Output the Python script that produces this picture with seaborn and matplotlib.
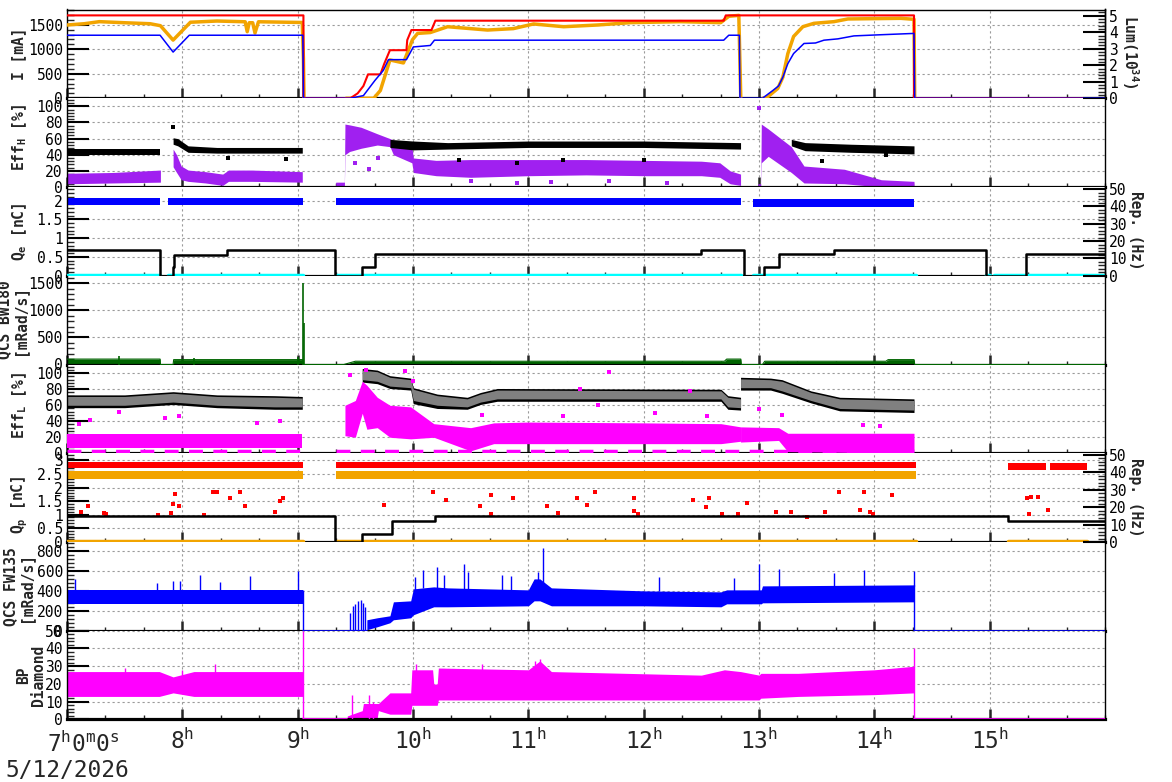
import matplotlib
matplotlib.use("Agg")
import matplotlib.pyplot as plt
import matplotlib.ticker as mticker
import seaborn as sns

# === time axis (hours of 5/12/2026) ===
hours = [7, 8, 9, 10, 11, 12, 13, 14, 15]
hour_labels = ['', '8', '9', '10', '11', '12', '13', '14', '15']

# === panel 1: beam currents [mA] and luminosity [1e34] ===
her_t = [7.0, 9.05, 9.05, 9.457, 9.52, 9.57, 9.61, 9.717, 9.75, 9.80, 9.943, 9.95, 9.986,
         10.16, 10.194, 12.694, 12.712, 14.344, 14.344, 16.0]
her_i = [1690, 1690, 0, 0, 100, 250, 487, 487, 700, 980, 980, 1186, 1391,
         1391, 1582, 1582, 1690, 1690, 0, 0]

ler_t1 = [7.0, 7.15, 7.28, 7.5, 7.72, 7.81, 7.92, 8.07, 8.30, 8.545, 8.5625, 8.58, 8.61,
          8.63, 8.66, 9.04, 9.05, 9.055]
ler_i1 = [1494, 1520, 1562, 1540, 1520, 1480, 1186, 1550, 1575, 1560, 1357, 1540, 1540,
          1330, 1560, 1545, 800, 0]
ler_t2 = [9.42, 9.66, 9.717, 9.80, 9.917, 9.995, 10.04, 10.15, 10.30, 10.646, 10.87, 11.045,
          11.306, 11.60, 11.887, 12.32, 12.668, 12.738, 12.825, 12.835, 12.842]
ler_i2 = [0, 0, 158, 781, 720, 1192, 1323, 1340, 1459, 1391, 1420, 1515,
          1459, 1494, 1542, 1562, 1542, 1671, 1690, 700, 0]
ler_t3 = [13.033, 13.076, 13.163, 13.207, 13.25, 13.30, 13.38, 13.476, 13.65, 13.77, 14.23,
          14.344, 14.35]
ler_i3 = [0, 30, 200, 430, 910, 1260, 1459, 1528, 1562, 1617, 1630, 1610, 0]

lum_t = [7.0, 7.807, 7.92, 8.06, 9.045, 9.05, 9.457, 9.57, 9.67, 9.743, 9.787, 9.943, 10.003,
         10.15, 10.186, 12.694, 12.738, 12.83, 12.835, 13.03, 13.12, 13.17, 13.207, 13.25,
         13.30, 13.39, 13.49, 13.563, 13.684, 13.823, 14.057, 14.344, 14.35, 16.0]
lum_v = [3.82, 3.82, 2.80, 3.82, 3.82, 0, 0, 0.16, 1.08, 1.69, 2.34, 2.34, 3.11,
         3.2, 3.52, 3.52, 3.82, 3.82, 0, 0, 0.47, 0.75, 1.28, 2.10,
         2.71, 3.32, 3.35, 3.52, 3.6, 3.78, 3.85, 3.93, 0, 0]

# === panel 2: Eff_H [%] ===
effh_pur_t1 = [7.0, 7.4, 7.81]
effh_pur_lo1 = [4, 5, 6]
effh_pur_hi1 = [17, 18, 21]
effh_pur_t2 = [7.92, 7.95, 7.99, 8.05, 8.2, 8.35, 8.40, 8.6, 9.04]
effh_pur_lo2 = [25, 18, 9, 7, 5, 2, 7, 7, 6]
effh_pur_hi2 = [47, 40, 26, 21, 19, 16, 21, 21, 19]
effh_pur_t3 = [9.33, 9.405, 9.41, 9.45, 9.55, 9.69, 9.80, 9.83, 9.99, 10.003, 10.2, 10.5,
               11.0, 11.5, 12.0, 12.5, 12.66, 12.75, 12.84]
effh_pur_lo3 = [0, 0, 40, 44, 48, 52, 50, 40, 30, 18, 14, 12, 14, 15, 14, 14, 12, 4, 2]
effh_pur_hi3 = [6, 6, 78, 77, 74, 66, 60, 58, 50, 36, 33, 34, 34, 34, 33, 32, 30, 20, 16]
effh_pur_t4 = [12.99, 13.015, 13.02, 13.08, 13.28, 13.39, 13.74, 14.06, 14.344]
effh_pur_lo4 = [0, 0, 30, 38, 18, 5, 4, 0, 0]
effh_pur_hi4 = [4, 4, 78, 72, 50, 26, 22, 9, 7]

effh_blk_t1 = [7.0, 7.81]
effh_blk_lo1 = [40, 40]
effh_blk_hi1 = [47, 47]
effh_blk_t2 = [7.92, 7.96, 8.05, 8.3, 9.04]
effh_blk_lo2 = [53, 51, 43, 42, 42]
effh_blk_hi2 = [61, 60, 51, 49, 49]
effh_blk_t3 = [9.80, 10.0, 10.3, 11.0, 12.0, 12.84]
effh_blk_lo3 = [49, 46, 47, 49, 49, 47]
effh_blk_hi3 = [59, 57, 55, 57, 57, 55]
effh_blk_t4 = [13.28, 13.4, 13.8, 14.344]
effh_blk_lo4 = [51, 45, 43, 41]
effh_blk_hi4 = [59, 55, 53, 51]

effh_blk_out_t = [7.92, 8.40, 8.9, 10.4, 10.9, 11.3, 12.0, 13.55, 14.1]
effh_blk_out_v = [74, 36, 35, 34, 30, 34, 33, 32, 40]
effh_pur_out_t = [13.0, 9.5, 9.62, 9.7, 10.5, 10.9, 11.2, 11.7, 12.2]
effh_pur_out_v = [98, 30, 22, 36, 8, 5, 6, 8, 5]

# === panel 3: Q_e [nC] and e- rep. rate [Hz] ===
qe_start = [7.0, 7.877, 9.33, 12.946]
qe_end = [7.81, 9.05, 12.842, 14.344]
qe_lo = [1.88, 1.88, 1.87, 1.83]
qe_hi = [2.08, 2.08, 2.06, 2.05]
cy_start = [7.0, 7.88, 9.33, 12.946, 14.97, 15.04]
cy_end = [7.81, 9.05, 12.842, 14.36, 15.0, 16.0]
cy_level = 0.02

rep_e_t = [7.0, 7.81, 7.81, 7.915, 7.915, 7.925, 7.925, 8.39, 8.39, 9.326, 9.326, 9.56, 9.56,
           9.67, 9.67, 12.50, 12.50, 12.868, 12.868, 13.04, 13.04, 13.17, 13.17, 13.65, 13.65,
           14.97, 14.97, 15.316, 15.316, 16.0]
rep_e_v = [14.6, 14.6, 0, 0, 5, 5, 12.1, 12.1, 14.6, 14.6, 0, 0, 4.8,
           4.8, 12.3, 12.3, 14.6, 14.6, 0, 0, 4.8, 4.8, 12.3, 12.3, 14.6,
           14.6, 0, 0, 12.3, 12.3]

# === panel 4: QCS BW180 [mRad/s] ===
bw_t = [7.0, 7.807, 7.81, 7.92, 7.925, 9.045, 9.05, 9.40, 9.50, 12.70, 12.72, 12.842, 12.846,
        13.03, 13.05, 14.10, 14.12, 14.344, 14.35, 16.0]
bw_v = [100, 100, 0, 0, 90, 90, 0, 0, 60, 60, 100, 100, 0, 0, 60, 60, 90, 90, 0, 0]
bw_spk_t = [9.048, 9.057, 7.45, 8.1, 9.0]
bw_spk_v = [1500, 760, 150, 120, 140]

# === panel 5: Eff_L [%] ===
effl_t1 = [7.0, 7.5, 7.92, 8.3, 8.8, 9.04]
effl_gry_lo1 = [60, 60, 64, 60, 58, 58]
effl_gry_hi1 = [71, 71, 75, 71, 70, 69]
effl_blk_lo1 = [57, 57, 61, 57, 55, 55]
effl_blk_hi1 = [73, 73, 77, 73, 72, 71]
effl_t2 = [9.56, 9.69, 9.80, 9.98, 10.003, 10.21, 10.47, 10.585, 10.73, 12.67, 12.73, 12.84]
effl_gry_lo2 = [92, 90, 84, 82, 66, 60, 58, 64, 68, 68, 58, 57]
effl_gry_hi2 = [104, 102, 95, 92, 80, 72, 68, 74, 79, 78, 70, 68]
effl_blk_lo2 = [89, 87, 81, 79, 62, 56, 55, 61, 65, 65, 55, 54]
effl_blk_hi2 = [106, 104, 97, 94, 82, 74, 70, 76, 81, 80, 72, 70]
effl_t3 = [12.84, 13.1, 13.2, 13.45, 13.7, 14.344]
effl_gry_lo3 = [82, 82, 78, 66, 56, 54]
effl_gry_hi3 = [93, 92, 90, 76, 68, 66]
effl_blk_lo3 = [79, 79, 75, 63, 53, 51]
effl_blk_hi3 = [95, 94, 92, 78, 70, 68]

effl_mag_t1 = [7.0, 9.04]
effl_mag_lo1 = [7, 7]
effl_mag_hi1 = [24, 24]
effl_mag_t2 = [9.41, 9.50, 9.56, 9.60, 9.69, 9.80, 9.98, 10.18, 10.5, 10.70, 11.0, 12.0, 12.67, 12.84]
effl_mag_lo2 = [22, 20, 50, 30, 32, 20, 18, 20, 3, 12, 12, 12, 12, 15]
effl_mag_hi2 = [60, 66, 90, 85, 70, 60, 58, 37, 32, 38, 39, 38, 37, 33]
effl_mag_t3 = [12.84, 13.17, 13.25, 14.344]
effl_mag_lo3 = [14, 16, 2, 0]
effl_mag_hi3 = [33, 32, 25, 25]
effl_mag_out_t = [7.1, 7.2, 7.45, 7.85, 7.97, 8.65, 8.85, 9.45, 9.59, 9.93, 10.0, 10.6, 11.3,
                  11.45, 11.6, 11.7, 12.1, 12.4, 12.55, 13.0, 13.2, 13.9, 14.05]
effl_mag_out_v = [37, 42, 52, 44, 47, 38, 40, 98, 104, 103, 90, 48, 46,
                  80, 60, 101, 50, 78, 46, 55, 48, 35, 34]
effl_zero_start = [7.0, 9.33]
effl_zero_end = [9.05, 14.36]

# === panel 6: Q_p [nC] and e+ rep. rate [Hz] ===
qp_red_start = [7.0, 9.33, 15.16, 15.52]
qp_red_end = [9.05, 14.36, 15.49, 15.84]
qp_red_lo = [2.72, 2.72, 2.66, 2.66]
qp_red_hi = [2.95, 2.93, 2.90, 2.90]
qp_org_start = [7.0, 9.33]
qp_org_end = [9.05, 14.36]
qp_org_lo = [2.32, 2.30]
qp_org_hi = [2.60, 2.60]
qp_low_start = [7.0, 9.33, 15.16]
qp_low_end = [9.05, 14.36, 15.84]
qp_low_level = 0.05
qp_out_t = [7.12, 7.18, 7.32, 7.34, 7.79, 7.90, 7.92, 7.94, 7.97, 8.19, 8.27, 8.30, 8.41, 8.50,
            8.54, 8.80, 8.85, 8.87, 9.75, 10.17, 10.29, 10.58, 10.68, 10.68, 10.87, 11.16,
            11.26, 11.42, 11.51, 11.58, 11.92, 11.92, 11.95, 12.43, 12.54, 12.57, 12.68,
            12.82, 12.9, 13.15, 13.28, 13.42, 13.57, 13.69, 13.88, 13.91, 13.96, 13.99,
            14.15, 15.32, 15.34, 15.36, 15.42, 15.51]
qp_out_v = [1.11, 1.32, 1.08, 1.02, 0.99, 1.08, 1.39, 1.78, 1.32, 0.98, 1.85, 1.82, 1.6, 1.82,
            1.32, 1.11, 1.51, 1.6, 1.36, 1.84, 1.55, 1.34, 1.73, 1.03, 1.63, 1.34,
            1.08, 1.63, 1.35, 1.82, 1.6, 1.14, 1.02, 1.55, 1.3, 1.6, 1.04,
            1.02, 1.42, 1.11, 1.11, 0.92, 1.11, 1.82, 1.16, 1.82, 1.11, 1.02,
            1.73, 1.6, 1.02, 1.66, 1.66, 1.16]

rep_p_t = [7.0, 9.326, 9.326, 9.56, 9.56, 9.82, 9.82, 10.19, 10.19, 15.16, 15.16, 16.0]
rep_p_v = [15.2, 15.2, 0, 0, 4.4, 4.4, 11.9, 11.9, 15.2, 15.2, 11.9, 11.9]

# === panel 7: QCS FW135 [mRad/s] ===
fw_t1 = [7.0, 9.045]
fw_lo1 = [265, 265]
fw_hi1 = [405, 405]
fw_t2 = [9.60, 9.69, 9.80, 9.83, 9.98, 10.003, 10.18, 10.3, 11.0, 11.05, 11.1, 11.2, 12.0,
         12.67, 12.72, 13.02, 13.03, 14.344]
fw_lo2 = [10, 40, 80, 110, 130, 160, 240, 240, 250, 300, 300, 250, 250, 240, 270, 270, 280, 290]
fw_hi2 = [110, 130, 150, 290, 300, 420, 440, 430, 410, 520, 520, 430, 400, 390, 410, 410, 450, 460]
fw_zero_start = [9.045, 14.344]
fw_zero_end = [9.60, 16.0]
fw_spk_t = [7.07, 7.78, 7.92, 7.98, 8.15, 8.33, 8.59, 9.0, 9.047, 9.45, 9.48, 9.50, 9.52, 9.55,
            9.57, 9.58, 10.02, 10.09, 10.21, 10.27, 10.44, 10.48, 10.77, 10.85, 11.08, 11.13,
            12.13, 12.78, 13.0, 13.17, 13.65, 13.91, 14.34, 14.345]
fw_spk_lo = [400, 400, 400, 400, 400, 400, 400, 400, 0, 0, 0, 0, 0, 0,
             0, 0, 400, 430, 430, 420, 420, 420, 410, 410, 420, 420,
             400, 400, 400, 440, 450, 450, 450, 0]
fw_spk_v = [520, 480, 500, 500, 560, 490, 550, 600, 405, 180, 250, 270, 300, 310,
            280, 240, 543, 610, 643, 560, 670, 593, 560, 550, 593, 827,
            543, 528, 665, 617, 577, 610, 603, 460]

# === panel 8: BP Diamond ===
bp_t1 = [7.0, 7.8, 7.92, 8.1, 9.045]
bp_lo1 = [13, 13, 15, 13, 13]
bp_hi1 = [27, 27, 24, 27, 27]
bp_t2 = [9.43, 9.56, 9.57, 9.69, 9.70, 9.80, 9.98, 9.99, 10.17, 10.18, 10.21, 10.22, 11.0, 11.1,
         11.2, 12.5, 12.7, 12.84, 13.0, 13.016, 13.34, 14.0, 14.344]
bp_lo2 = [0, 1, 1, 1, 5, 3, 3, 8, 8, 8, 8, 11, 11, 11, 11, 11, 11, 11, 11, 12, 13, 14, 15]
bp_hi2 = [2, 5, 9, 9, 9, 15, 15, 28, 28, 20, 20, 29, 28, 33, 27, 25, 28, 27, 25, 26, 26, 28, 30]
bp_zero_start = [9.045, 14.344]
bp_zero_end = [9.43, 16.0]
bp_spk_t = [9.048, 14.346, 9.47, 9.62, 9.65, 10.03, 10.6, 11.06, 11.1, 7.5, 8.0, 8.28]
bp_spk_lo = [0, 0, 0, 0, 0, 20, 20, 20, 20, 20, 20, 20]
bp_spk_v = [50, 40, 14, 14, 10, 31, 31, 33, 34, 29, 28, 31]


# colours used in the original (ROOT style)
RED, ORG, BLUE = '#ff0000', '#f2a400', '#0000ff'
PUR, CYAN, GRN = '#a020f0', '#00ffff', '#006400'
GRY, MAG = '#808080', '#ff00ff'

sns.set_theme(style='white')
plt.rcParams['font.family'] = ['DejaVu Sans Mono']
plt.rcParams['mathtext.fontset'] = 'custom'
plt.rcParams['mathtext.rm'] = 'DejaVu Sans Mono'
plt.rcParams['mathtext.it'] = 'DejaVu Sans Mono'
plt.rcParams['mathtext.bf'] = 'DejaVu Sans Mono:bold'

W, H = 1172, 782
fig, axes = plt.subplots(8, 1, figsize=(W / 100, H / 100), dpi=100, sharex=True,
                         gridspec_kw={'hspace': 0})
fig.subplots_adjust(left=67 / W, right=1105 / W, top=1 - 9.5 / H, bottom=1 - 719.5 / H)


def style(ax, ylim, major, minor, first=False):
    ax.set_xlim(7, 16)
    ax.set_ylim(*ylim)
    ax.xaxis.set_major_locator(mticker.FixedLocator(hours))
    ax.xaxis.set_minor_locator(mticker.MultipleLocator(1 / 3))
    ax.yaxis.set_major_locator(mticker.MultipleLocator(major))
    ax.yaxis.set_minor_locator(mticker.MultipleLocator(minor))
    ax.yaxis.set_major_formatter(mticker.FormatStrFormatter('%g'))
    ax.set_axisbelow(True)
    ax.grid(True, which='major', color='#9a9a9a', ls=(0, (2, 2.5)), lw=0.8)
    ax.tick_params(axis='y', which='major', direction='in', length=16, width=1.5,
                   labelsize=10.5, pad=3, left=True, right=False, colors='black')
    ax.tick_params(axis='y', which='minor', direction='in', length=5, width=1,
                   left=True, right=False)
    ax.tick_params(axis='x', which='major', direction='in', length=7, width=1.8,
                   bottom=True, top=False, labelsize=16.5, pad=6)
    ax.tick_params(axis='x', which='minor', direction='in', length=3, width=1,
                   bottom=True, top=False)
    for s in ax.spines.values():
        s.set_color('black')
        s.set_linewidth(1)
    ax.spines['bottom'].set_linewidth(2.3)
    ax.spines['top'].set_visible(first)
    ax.set_xlabel('')
    ax.set_ylabel('')


def twin(ax, ylim, major, minor):
    tw = ax.twinx()
    tw.set_ylim(*ylim)
    tw.yaxis.set_major_locator(mticker.MultipleLocator(major))
    tw.yaxis.set_minor_locator(mticker.MultipleLocator(minor))
    tw.yaxis.set_major_formatter(mticker.FormatStrFormatter('%g'))
    tw.tick_params(axis='y', which='major', direction='in', length=16, width=1.5,
                   labelsize=10.5, pad=3, colors='black')
    tw.tick_params(axis='y', which='minor', direction='in', length=5, width=1)
    for s in ['top', 'bottom', 'left']:
        tw.spines[s].set_visible(False)
    tw.spines['right'].set_color('black')
    tw.spines['right'].set_linewidth(1)
    return tw


def line(ax, t, v, color, lw, z=3):
    sns.lineplot(x=t, y=v, ax=ax, color=color, lw=lw, estimator=None, sort=False, zorder=z)


def band(ax, t, lo, hi, color, z=2):
    ax.fill_between(t, lo, hi, color=color, lw=0, zorder=z)


def dots(ax, t, v, color, size=7):
    sns.scatterplot(x=t, y=v, ax=ax, color=color, marker='s', s=size, linewidth=0, zorder=4)


# ---- panel 1
ax = axes[0]
line(ax, ler_t1, ler_i1, ORG, 2.5)
line(ax, ler_t2, ler_i2, ORG, 2.5)
line(ax, ler_t3, ler_i3, ORG, 2.5)
line(ax, her_t, her_i, RED, 1.5, z=4)
style(ax, (0, 1810), 500, 100, first=True)
tw = twin(ax, (0, 5.38), 1, 0.2)
line(tw, lum_t, lum_v, BLUE, 1.1)

# ---- panel 2
ax = axes[1]
band(ax, effh_pur_t1, effh_pur_lo1, effh_pur_hi1, PUR)
band(ax, effh_pur_t2, effh_pur_lo2, effh_pur_hi2, PUR)
band(ax, effh_pur_t3, effh_pur_lo3, effh_pur_hi3, PUR)
band(ax, effh_pur_t4, effh_pur_lo4, effh_pur_hi4, PUR)
band(ax, effh_blk_t1, effh_blk_lo1, effh_blk_hi1, 'black', z=3)
band(ax, effh_blk_t2, effh_blk_lo2, effh_blk_hi2, 'black', z=3)
band(ax, effh_blk_t3, effh_blk_lo3, effh_blk_hi3, 'black', z=3)
band(ax, effh_blk_t4, effh_blk_lo4, effh_blk_hi4, 'black', z=3)
dots(ax, effh_blk_out_t, effh_blk_out_v, 'black')
dots(ax, effh_pur_out_t, effh_pur_out_v, PUR)
style(ax, (0, 110), 20, 4)

# ---- panel 3
ax = axes[2]
for a, b, lo, hi in zip(qe_start, qe_end, qe_lo, qe_hi):
    band(ax, [a, b], [lo, lo], [hi, hi], BLUE)
for a, b in zip(cy_start, cy_end):
    line(ax, [a, b], [cy_level, cy_level], CYAN, 2.5)
style(ax, (0, 2.36), 0.5, 0.1)
tw = twin(ax, (0, 51.2), 10, 2)
line(tw, rep_e_t, rep_e_v, 'black', 1.8)

# ---- panel 4
ax = axes[3]
ax.fill_between(bw_t, 0, bw_v, color=GRN, lw=0, zorder=2)
line(ax, bw_t, bw_v, GRN, 0.8)
ax.vlines(bw_spk_t, 0, bw_spk_v, color=GRN, lw=1.2, zorder=3)
style(ax, (0, 1637), 500, 100)

# ---- panel 5
ax = axes[4]
band(ax, effl_t1, effl_blk_lo1, effl_blk_hi1, 'black')
band(ax, effl_t2, effl_blk_lo2, effl_blk_hi2, 'black')
band(ax, effl_t3, effl_blk_lo3, effl_blk_hi3, 'black')
band(ax, effl_t1, effl_gry_lo1, effl_gry_hi1, GRY, z=2.5)
band(ax, effl_t2, effl_gry_lo2, effl_gry_hi2, GRY, z=2.5)
band(ax, effl_t3, effl_gry_lo3, effl_gry_hi3, GRY, z=2.5)
band(ax, effl_mag_t1, effl_mag_lo1, effl_mag_hi1, MAG, z=3)
band(ax, effl_mag_t2, effl_mag_lo2, effl_mag_hi2, MAG, z=3)
band(ax, effl_mag_t3, effl_mag_lo3, effl_mag_hi3, MAG, z=3)
dots(ax, effl_mag_out_t, effl_mag_out_v, MAG, size=9)
for a, b in zip(effl_zero_start, effl_zero_end):
    ax.plot([a, b], [2.5, 2.5], color=MAG, lw=2.5, ls=(0, (4, 3)), zorder=5)
style(ax, (0, 111), 20, 4)

# ---- panel 6
ax = axes[5]
for a, b, lo, hi in zip(qp_red_start, qp_red_end, qp_red_lo, qp_red_hi):
    band(ax, [a, b], [lo, lo], [hi, hi], RED)
for a, b, lo, hi in zip(qp_org_start, qp_org_end, qp_org_lo, qp_org_hi):
    band(ax, [a, b], [lo, lo], [hi, hi], ORG)
for a, b in zip(qp_low_start, qp_low_end):
    line(ax, [a, b], [qp_low_level, qp_low_level], ORG, 2.5)
dots(ax, qp_out_t, qp_out_v, RED, size=5)
style(ax, (0, 3.26), 0.5, 0.1)
tw = twin(ax, (0, 51), 10, 2)
line(tw, rep_p_t, rep_p_v, 'black', 1.8)

# ---- panel 7
ax = axes[6]
band(ax, fw_t1, fw_lo1, fw_hi1, BLUE)
band(ax, fw_t2, fw_lo2, fw_hi2, BLUE)
ax.vlines(fw_spk_t, fw_spk_lo, fw_spk_v, color=BLUE, lw=1, zorder=3)
for a, b in zip(fw_zero_start, fw_zero_end):
    line(ax, [a, b], [0, 0], BLUE, 1.2)
style(ax, (0, 890), 200, 40)

# ---- panel 8
ax = axes[7]
band(ax, bp_t1, bp_lo1, bp_hi1, MAG)
band(ax, bp_t2, bp_lo2, bp_hi2, MAG)
ax.vlines(bp_spk_t, bp_spk_lo, bp_spk_v, color=MAG, lw=1, zorder=3)
for a, b in zip(bp_zero_start, bp_zero_end):
    line(ax, [a, b], [0.3, 0.3], MAG, 1.2)
style(ax, (0, 50), 10, 2)
ax.set_xticks(hours)
ax.set_xticklabels([r'$\mathregular{%s^{h}}$' % h if h else '' for h in hour_labels])

# ---- axis titles (ROOT-like, bold monospace)
def px(x, y):
    return x / W, 1 - y / H


kw = dict(fontsize=10.5, fontweight='bold', ha='center', va='center', linespacing=1.05)
fig.text(*px(19, 54), 'I [mA]', rotation=90, **kw)
fig.text(*px(20, 137), r'Eff$_{\mathbf{H}}$ [%]', rotation=90, **kw)
fig.text(*px(20, 232), r'Q$_{\mathbf{e}}$ [nC]', rotation=90, **kw)
fig.text(*px(12, 320), 'QCS BW180\n[mRad/s]', rotation=90, **kw)
fig.text(*px(20, 405), r'Eff$_{\mathbf{L}}$ [%]', rotation=90, **kw)
fig.text(*px(20, 505), r'Q$_{\mathbf{p}}$ [nC]', rotation=90, **kw)
fig.text(*px(18, 587), 'QCS FW135\n[mRad/s]', rotation=90, **kw)
fig.text(*px(31, 675), 'BP\nDiamond', rotation=90, **kw)
fig.text(*px(1130, 52), r'Lum(10$^{\mathbf{34}}$)', rotation=-90, **kw)
fig.text(*px(1136, 230), 'Rep. (Hz)', rotation=-90, **kw)
fig.text(*px(1136, 497), 'Rep. (Hz)', rotation=-90, **kw)

fig.text(*px(47, 752), r'$\mathregular{7^{h}0^{m}0^{s}}$', fontsize=16.5, ha='left', va='baseline')
fig.text(*px(5, 777), '5/12/2026', fontsize=16.5, ha='left', va='baseline')

fig.savefig('out.png', dpi=100, facecolor='white')
